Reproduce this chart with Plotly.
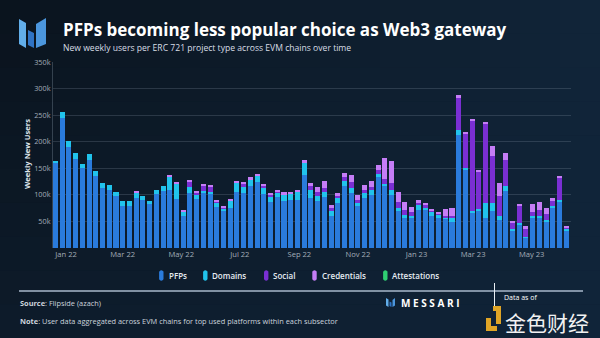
import math
import pandas as pd
import plotly.graph_objects as go

# Weekly new users (thousands) per ERC 721 project type
weeks = pd.date_range("2021-12-21", periods=77, freq="7D")

pfps_k = [160, 245, 191, 168, 150, 166, 135, 113, 110, 97, 79, 79, 95, 91, 83, 102,
          108, 110, 92, 60, 103, 92, 103, 101, 78, 69, 75, 106, 103, 117, 124, 102,
          86, 96, 88, 91, 90, 138, 94, 88, 96, 61, 85, 117, 104, 79, 94, 100,
          134, 116, 100, 69, 57, 57, 71, 71, 61, 57, 54, 48, 213, 147, 67, 71,
          57, 69, 53, 108, 32, 44, 20, 57, 57, 50, 75, 86, 33]
domains_k = [4, 10, 11, 11, 8, 11, 10, 10, 8, 8, 9, 9, 9, 6, 6, 8,
             9, 24, 30, 8, 11, 9, 5, 5, 8, 5, 13, 16, 11, 11, 11, 10,
             10, 9, 12, 10, 15, 22, 16, 9, 10, 8, 9, 10, 9, 6, 9, 9,
             6, 5, 9, 6, 6, 4, 9, 6, 7, 6, 4, 9, 9, 3, 2, 3,
             28, 16, 8, 9, 4, 3, 1, 3, 3, 3, 4, 5, 3]
social_k = [0, 0, 0, 0, 0, 0, 0, 0, 0, 0, 0, 0, 0, 0, 0, 0,
            0, 0, 0, 0, 12, 2, 10, 9, 2, 2, 0, 0, 7, 0, 0, 6,
            5, 2, 0, 0, 0, 0, 6, 9, 6, 6, 4, 6, 12, 6, 6, 5,
            6, 8, 13, 12, 8, 6, 4, 3, 2, 2, 3, 3, 60, 65, 170, 70,
            150, 88, 37, 49, 12, 33, 14, 8, 11, 11, 10, 42, 3]
credentials_k = [0, 0, 0, 0, 0, 0, 0, 0, 0, 0, 0, 0, 2, 0, 0, 0,
                 0, 3, 3, 3, 2, 4, 2, 2, 2, 2, 4, 5, 2, 5, 5, 3,
                 3, 3, 5, 5, 5, 6, 6, 8, 15, 5, 6, 9, 13, 8, 9, 13,
                 11, 40, 41, 19, 15, 10, 7, 5, 2, 2, 13, 15, 6, 2, 4, 1,
                 3, 19, 24, 12, 2, 3, 7, 14, 15, 11, 5, 3, 3]
attestations_k = [0, 0, 0, 0, 0, 0, 0, 0, 0, 0, 0, 0, 0, 0, 0, 0,
                  0, 0, 0, 0, 0, 0, 0, 0, 0, 0, 0, 0, 0, 0, 0, 0,
                  0, 0, 0, 0, 0, 0, 0, 0, 0, 0, 0, 0, 0, 0, 0, 0,
                  0, 0, 0, 0, 0, 0, 0, 0, 0, 0, 0, 0, 0, 0, 0, 0,
                  0, 0, 0, 0, 0, 0, 0, 0, 0, 0, 0, 0, 0]

series_names = ["PFPs", "Domains", "Social", "Credentials", "Attestations"]
series_colors = ["#2a7bdc", "#21c3ec", "#7a2fd3", "#c57df6", "#2fcf72"]
y_ticks = [50, 100, 150, 200, 250, 300, 350]
y_tick_labels = ["50k", "100k", "150k", "200k", "250k", "300k", "350k"]

W, H = 600, 338
PL, PR, PT, PB = 53, 571, 62, 248  # plot area edges in pixels


def px(x):
    return (x - PL) / (PR - PL)


def py(y):
    return (PB - y) / (PB - PT)


fig = go.Figure()
for name, vals, col in zip(series_names,
                           [pfps_k, domains_k, social_k, credentials_k, attestations_k],
                           series_colors):
    fig.add_trace(go.Bar(x=weeks, y=vals, name=name, marker=dict(color=col, line=dict(width=0)),
                         showlegend=False))

shapes = []
annotations = []

# background gradient (dark navy, brighter toward the right)
tl, tr, bl, br = (10, 19, 29), (17, 37, 57), (13, 27, 42), (16, 36, 57)
nx, ny = 30, 10
for i in range(nx):
    for j in range(ny):
        fx = (i + 0.5) / nx
        fy = (j + 0.5) / ny
        c = [round((1 - fx) * (1 - fy) * a + fx * (1 - fy) * b + (1 - fx) * fy * d + fx * fy * e)
             for a, b, d, e in zip(tl, tr, bl, br)]
        shapes.append(dict(type="rect", xref="paper", yref="paper", layer="below",
                           x0=px(i * W / nx), x1=px((i + 1) * W / nx + 0.5),
                           y0=py(j * H / ny), y1=py((j + 1) * H / ny + 0.5),
                           fillcolor="rgb(%d,%d,%d)" % tuple(c), line=dict(width=0)))


def poly(points, color):
    path = "M " + " L ".join("%f,%f" % (px(x), py(y)) for x, y in points) + " Z"
    return dict(type="path", xref="paper", yref="paper", path=path,
                fillcolor=color, line=dict(width=0))


# header logo
shapes.append(poly([(19, 19), (26, 23), (26, 48), (19, 44)], "#62aeea"))
shapes.append(poly([(28, 30), (34, 33), (34, 48), (28, 45)], "#2f73c4"))
shapes.append(poly([(36, 24), (46, 18), (46, 44), (36, 48)], "#4b96dd"))


def pill(cx, cy, color, w=4.4, h=10.5):
    r = w / 2
    pts = []
    for k in range(9):
        a = math.pi * k / 8
        pts.append((cx + r * math.cos(a), cy - h / 2 + r - r * math.sin(a)))
    for k in range(9):
        a = math.pi + math.pi * k / 8
        pts.append((cx + r * math.cos(a), cy + h / 2 - r - r * math.sin(a)))
    return poly(pts, color)


def text(x, y, s, size, color="#dfe5ec", xanchor="left", weight=None, family="Open Sans", **kw):
    f = dict(size=size, color=color, family=family)
    if weight:
        f["weight"] = weight
    annotations.append(dict(x=px(x), y=py(y), xref="paper", yref="paper", text=s, showarrow=False,
                            xanchor=xanchor, yanchor="middle", font=f, **kw))


# title & subtitle
text(61, 30, "<b>PFPs becoming less popular choice as Web3 gateway</b>", 17, "#ffffff")
text(61, 47.5, "New weekly users per ERC 721 project type across EVM chains over time", 8.6, "#d8dee6")

# y-axis title
text(27, 154, "<b>Weekly New Users</b>", 7.6, "#dfe5ec", xanchor="center", textangle=-90)

# legend
legend_pos = [(161.3, 168), (205.3, 211), (266.2, 272), (314.5, 321), (385.3, 391)]
for (cx, tx), name, col in zip(legend_pos, series_names, series_colors):
    shapes.append(pill(cx, 275.5, col))
    text(tx - 1, 275.5, name, 8, "#e6ecf2", weight=600)

# footer
shapes.append(dict(type="line", xref="paper", yref="paper", x0=px(19), x1=px(583),
                   y0=py(291), y1=py(291), line=dict(color="#a9b9cb", width=1.6)))
text(18, 303, "<b>Source</b>: Flipside (azach)", 7.4, "#ccd4dd")
text(18, 321, "<b>Note</b>: User data aggregated across EVM chains for top used platforms within each subsector",
     7.4, "#ccd4dd")

# brand mark
shapes.append(poly([(386, 298), (388.5, 299.5), (388.5, 307), (386, 305.5)], "#62aeea"))
shapes.append(poly([(389.5, 301.5), (391.5, 302.5), (391.5, 307), (389.5, 306)], "#2f73c4"))
shapes.append(poly([(392.5, 300), (395, 298), (395, 305.5), (392.5, 307)], "#4b96dd"))
text(399, 302.5, "<b>M E S S A R I</b>", 10, "#ffffff")
shapes.append(dict(type="line", xref="paper", yref="paper", x0=px(494.5), x1=px(494.5),
                   y0=py(283), y1=py(310), line=dict(color="#e8eef4", width=1)))
text(502, 297, "Data as of", 7, "#ffffff")

# site watermark
shapes.append(poly([(486, 318), (491, 318), (491, 326), (497, 326), (497, 331), (486, 331)], "#e0a526"))
shapes.append(poly([(493, 306), (501, 306), (501, 324), (496, 324), (496, 311), (493, 311)], "#e0a526"))
text(503, 322, "金色财经", 21, "#f2f2f2", family="Noto Sans CJK SC")

x0 = weeks[0] - pd.Timedelta(days=2.6)
x1 = x0 + pd.Timedelta(days=(PR - PL) / 0.96)

fig.update_layout(
    width=W, height=H,
    margin=dict(l=PL, r=W - PR, t=PT, b=H - PB),
    barmode="stack", bargap=0.25,
    paper_bgcolor="#0e1b2a", plot_bgcolor="rgba(0,0,0,0)",
    font=dict(family="Open Sans", color="#a3adb8"),
    shapes=shapes, annotations=annotations,
    xaxis=dict(type="date", range=[x0, x1], tick0="2022-01-01", dtick="M2", tickformat="%b %y",
               showgrid=False, showline=False, zeroline=False, ticks="",
               tickfont=dict(size=7.6, color="#a3adb8")),
    yaxis=dict(range=[0, 350], tickvals=y_ticks, ticktext=y_tick_labels,
               showgrid=True, gridcolor="rgba(150,165,182,0.22)", gridwidth=1,
               showline=True, linecolor="rgba(150,165,182,0.3)", linewidth=1,
               zeroline=False, ticks="", tickfont=dict(size=7.3, color="#a3adb8")),
)

fig.write_html("out.html")
